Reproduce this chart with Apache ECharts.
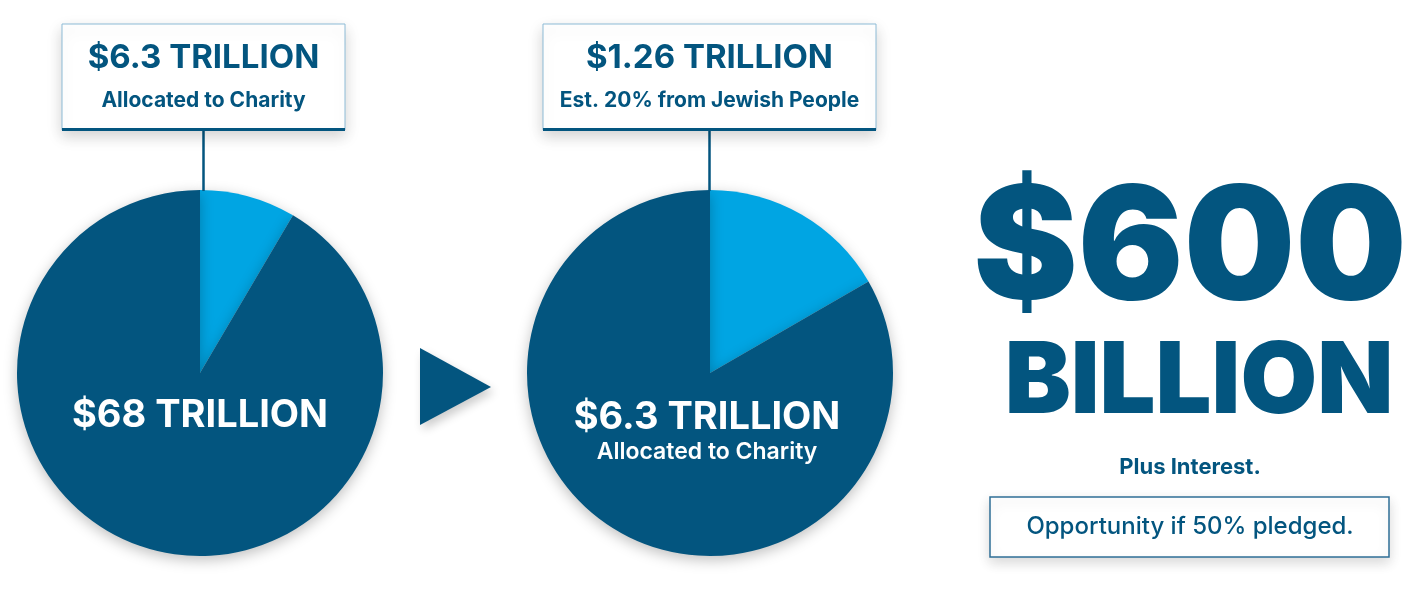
<!DOCTYPE html>
<html>
<head>
<meta charset="utf-8">
<script src="https://cdn.jsdelivr.net/npm/echarts@6/dist/echarts.min.js"></script>
<style>
  html, body { margin: 0; padding: 0; background: #fff; }
  #chart { width: 1427px; height: 593px; }
</style>
</head>
<body>
<div id="chart"></div>
<script>
// 数据（单位：万亿美元）
var pie1Names = ['Allocated to Charity', 'Total'];
var pie1Values = [6.3, 68];
var pie2Names = ['Est. 20% from Jewish People', 'Allocated to Charity'];
var pie2Values = [1.26, 6.3];
// 文字
var box1Title = '$6.3 TRILLION';
var box1Sub = 'Allocated to Charity';
var box2Title = '$1.26 TRILLION';
var box2Sub = 'Est. 20% from Jewish People';
var pie1Label = '$68 TRILLION';
var pie2Label = '$6.3 TRILLION';
var pie2Sub = 'Allocated to Charity';
var bigTop = '$600';
var bigBottom = 'BILLION';
var noteText = 'Plus Interest.';
var footText = 'Opportunity if 50% pledged.';

var dark = '#03557f';
var light = '#00a5e3';
var font = 'Inter, "Open Sans", sans-serif';

(function () {
	var myChart = echarts.init(document.getElementById('chart'));

	function pieData(names, values) {
		return names.map(function (n, i) {
			return { name: n, value: values[i], itemStyle: { color: i === 0 ? light : dark } };
		});
	}

	// 带阴影的标题框
	function box(x, w, title, sub) {
		var cx = x + w / 2;
		return [
			{
				type: 'rect',
				shape: { x: x, y: 24, width: w, height: 106 },
				style: {
					fill: '#fff', stroke: '#8dbbd6', lineWidth: 1,
					shadowBlur: 14, shadowOffsetY: 6, shadowColor: 'rgba(0,0,0,0.18)'
				},
				z: 5
			},
			{
				type: 'rect',
				shape: { x: x, y: 128, width: w, height: 3 },
				style: { fill: dark },
				z: 6
			},
			{
				type: 'line',
				shape: { x1: cx, y1: 131, x2: cx, y2: 191 },
				style: { stroke: dark, lineWidth: 2.5 },
				z: 4
			},
			{
				type: 'text', x: cx, y: 58, z: 7,
				style: { text: title, fill: dark, font: '700 33px ' + font, align: 'center', verticalAlign: 'middle' }
			},
			{
				type: 'text', x: cx, y: 101, z: 7,
				style: { text: sub, fill: dark, font: '700 21px ' + font, align: 'center', verticalAlign: 'middle' }
			}
		];
	}

	var shadowText = { shadowBlur: 10, shadowOffsetY: 5, shadowColor: 'rgba(0,0,0,0.22)' };

	var graphics = []
		.concat(box(62, 283, box1Title, box1Sub))
		.concat(box(543, 333, box2Title, box2Sub))
		.concat([
			// 饼图内文字
			{
				type: 'text', x: 200, y: 416, z: 10,
				style: { text: pie1Label, fill: '#fff', font: '700 38px ' + font, align: 'center', verticalAlign: 'middle' }
			},
			{
				type: 'text', x: 707, y: 418, z: 10,
				style: { text: pie2Label, fill: '#fff', font: '700 38px ' + font, align: 'center', verticalAlign: 'middle' }
			},
			{
				type: 'text', x: 707, y: 452, z: 10,
				style: { text: pie2Sub, fill: '#fff', font: '600 23px ' + font, align: 'center', verticalAlign: 'middle' }
			},
			// 箭头
			{
				type: 'polygon', z: 3,
				shape: { points: [[420, 348], [420, 425], [491, 387]] },
				style: { fill: dark, shadowBlur: 10, shadowOffsetX: 3, shadowOffsetY: 5, shadowColor: 'rgba(0,0,0,0.2)' }
			},
			// 右侧大字
			{
				type: 'text', x: 1190, y: 252, z: 10,
				style: Object.assign({ text: bigTop, fill: dark, font: '900 157px ' + font, align: 'center', verticalAlign: 'middle' }, shadowText)
			},
			{
				type: 'text', x: 1199, y: 383, z: 10,
				style: Object.assign({ text: bigBottom, fill: dark, font: '900 99px ' + font, align: 'center', verticalAlign: 'middle' }, shadowText)
			},
			{
				type: 'text', x: 1190, y: 467, z: 10,
				style: { text: noteText, fill: dark, font: '700 22px ' + font, align: 'center', verticalAlign: 'middle' }
			},
			{
				type: 'rect', z: 8,
				shape: { x: 990, y: 497, width: 399, height: 60 },
				style: { fill: '#fff', stroke: '#2f6f96', lineWidth: 1.5, shadowBlur: 12, shadowOffsetY: 5, shadowColor: 'rgba(0,0,0,0.15)' }
			},
			{
				type: 'text', x: 1190, y: 527, z: 10,
				style: { text: footText, fill: dark, font: '500 24px ' + font, align: 'center', verticalAlign: 'middle' }
			}
		]);

	var pieCommon = {
		type: 'pie',
		radius: 183,
		startAngle: 90,
		clockwise: true,
		silent: true,
		label: { show: false },
		labelLine: { show: false },
		itemStyle: { shadowBlur: 14, shadowOffsetY: 4, shadowColor: 'rgba(0,0,0,0.25)' },
		emphasis: { disabled: true },
		animation: false
	};

	var option = {
		backgroundColor: '#fff',
		animation: false,
		series: [
			Object.assign({}, pieCommon, { name: 'pie1', center: [200, 373], data: pieData(pie1Names, pie1Values) }),
			Object.assign({}, pieCommon, { name: 'pie2', center: [710, 373], data: pieData(pie2Names, pie2Values) })
		],
		graphic: graphics
	};

	myChart.setOption(option);
	window.addEventListener('resize', function () {
		myChart.resize();
	});
})();
</script>
</body>
</html>
